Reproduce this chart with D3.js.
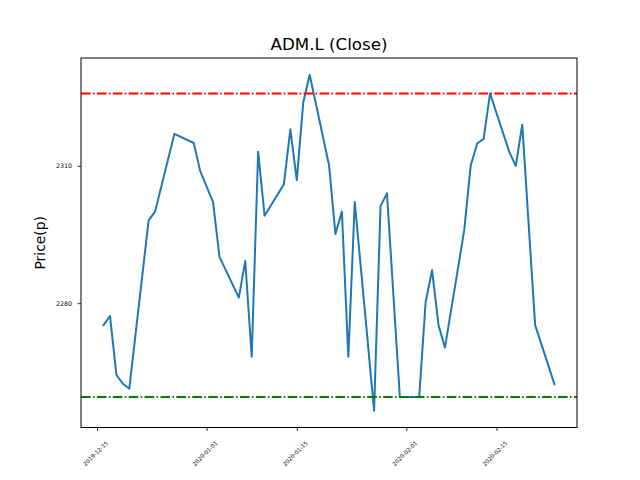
<!DOCTYPE html>
<html>
<head>
<meta charset="utf-8">
<script src="https://cdn.jsdelivr.net/npm/d3@7"></script>
<style>
  html, body { margin: 0; padding: 0; background: #fff; }
  svg { display: block; font-family: "DejaVu Sans", sans-serif; }
</style>
</head>
<body>
<svg id="chart" width="640" height="480"></svg>
<script>
const dates = ["2019-12-16","2019-12-17","2019-12-18","2019-12-19","2019-12-20",
  "2019-12-23","2019-12-24","2019-12-27","2019-12-30","2019-12-31",
  "2020-01-02","2020-01-03","2020-01-06","2020-01-07","2020-01-08","2020-01-09","2020-01-10",
  "2020-01-13","2020-01-14","2020-01-15","2020-01-16","2020-01-17",
  "2020-01-20","2020-01-21","2020-01-22","2020-01-23","2020-01-24",
  "2020-01-27","2020-01-28","2020-01-29","2020-01-31",
  "2020-02-03","2020-02-04","2020-02-05","2020-02-06","2020-02-07",
  "2020-02-10","2020-02-11","2020-02-12","2020-02-13","2020-02-14",
  "2020-02-17","2020-02-18","2020-02-19","2020-02-21","2020-02-24"];
const closeValues = [2275.2,2277.2,2264.3,2262.4,2261.3,
  2298.1,2300.0,2317.0,2315.0,2308.9,
  2302.1,2290.1,2281.2,2289.2,2268.3,2313.1,2299.1,
  2306.0,2318.0,2306.9,2323.8,2329.9,
  2310.2,2295.1,2300.0,2268.3,2302.1,
  2256.5,2301.2,2304.0,2259.5,
  2259.5,2280.2,2287.2,2275.2,2270.3,
  2296.0,2310.1,2314.9,2315.9,2325.8,
  2313.0,2310.0,2319.0,2275.2,2262.3];
const upperLevel = 2325.8;
const lowerLevel = 2259.5;
const yTicks = [2280, 2310];
const xTickDates = ["2019-12-15","2020-01-01","2020-01-15","2020-02-01","2020-02-15"];
const titleText = "ADM.L (Close)";
const yLabelText = "Price(p)";

const parse = d3.timeParse("%Y-%m-%d");
const data = dates.map((d, i) => ({ date: parse(d), value: closeValues[i] }));

const svg = d3.select("#chart");
const mLeft = 81, mRight = 577, mTop = 58, mBottom = 427.5;

const xExt = d3.extent(data, d => d.date);
const xSpan = xExt[1] - xExt[0];
const x = d3.scaleTime()
  .domain([new Date(+xExt[0] - 0.05 * xSpan), new Date(+xExt[1] + 0.05 * xSpan)])
  .range([mLeft, mRight]);

const yExt = d3.extent(data, d => d.value);
const ySpan = yExt[1] - yExt[0];
const y = d3.scaleLinear()
  .domain([yExt[0] - 0.05 * ySpan, yExt[1] + 0.05 * ySpan])
  .range([mBottom, mTop]);

// line
const line = d3.line().x(d => x(d.date)).y(d => y(d.value));
svg.append("path")
  .datum(data)
  .attr("d", line)
  .attr("fill", "none")
  .attr("stroke", "#1f77b4")
  .attr("stroke-width", 2)
  .attr("stroke-linejoin", "round")
  .attr("stroke-linecap", "square");

// horizontal reference lines
[[upperLevel, "#ff0000"], [lowerLevel, "#008000"]].forEach(([v, c]) => {
  svg.append("line")
    .attr("x1", mLeft).attr("x2", mRight)
    .attr("y1", y(v)).attr("y2", y(v))
    .attr("stroke", c)
    .attr("stroke-width", 2)
    .attr("stroke-dasharray", "9.6,2.4,1.5,2.4");
});

// axes
const xAxis = d3.axisBottom(x)
  .tickValues(xTickDates.map(parse))
  .tickFormat(d3.timeFormat("%Y-%m-%d"))
  .tickSize(3.5)
  .tickSizeOuter(0);
const gx = svg.append("g")
  .attr("transform", `translate(0,${mBottom})`)
  .call(xAxis);
gx.select(".domain").remove();
gx.selectAll(".tick line").attr("stroke", "#000").attr("stroke-width", 0.8);
gx.selectAll(".tick text")
  .attr("font-size", 5.6)
  .attr("font-family", "DejaVu Sans")
  .attr("fill", "#000")
  .attr("text-anchor", "middle")
  .attr("dominant-baseline", "central")
  .attr("dy", null)
  .attr("y", 0)
  .attr("transform", "translate(-2,26) rotate(-45)");

const yAxis = d3.axisLeft(y)
  .tickValues(yTicks)
  .tickFormat(d3.format("d"))
  .tickSize(3.5)
  .tickPadding(5.5)
  .tickSizeOuter(0);
const gy = svg.append("g")
  .attr("transform", `translate(${mLeft},0)`)
  .call(yAxis);
gy.select(".domain").remove();
gy.selectAll(".tick line").attr("stroke", "#000").attr("stroke-width", 0.8);
gy.selectAll(".tick text")
  .attr("font-size", 6.3)
  .attr("font-family", "DejaVu Sans")
  .attr("fill", "#000");

// frame
svg.append("rect")
  .attr("x", mLeft).attr("y", mTop)
  .attr("width", mRight - mLeft).attr("height", mBottom - mTop)
  .attr("fill", "none")
  .attr("stroke", "#000")
  .attr("stroke-width", 1);

// title
svg.append("text")
  .attr("x", (mLeft + mRight) / 2)
  .attr("y", 50)
  .attr("text-anchor", "middle")
  .attr("font-size", 16.7)
  .attr("fill", "#000")
  .text(titleText);

// y label
svg.append("text")
  .attr("transform", `translate(45,${(mTop + mBottom) / 2}) rotate(-90)`)
  .attr("text-anchor", "middle")
  .attr("font-size", 13.9)
  .attr("fill", "#000")
  .text(yLabelText);
</script>
</body>
</html>
